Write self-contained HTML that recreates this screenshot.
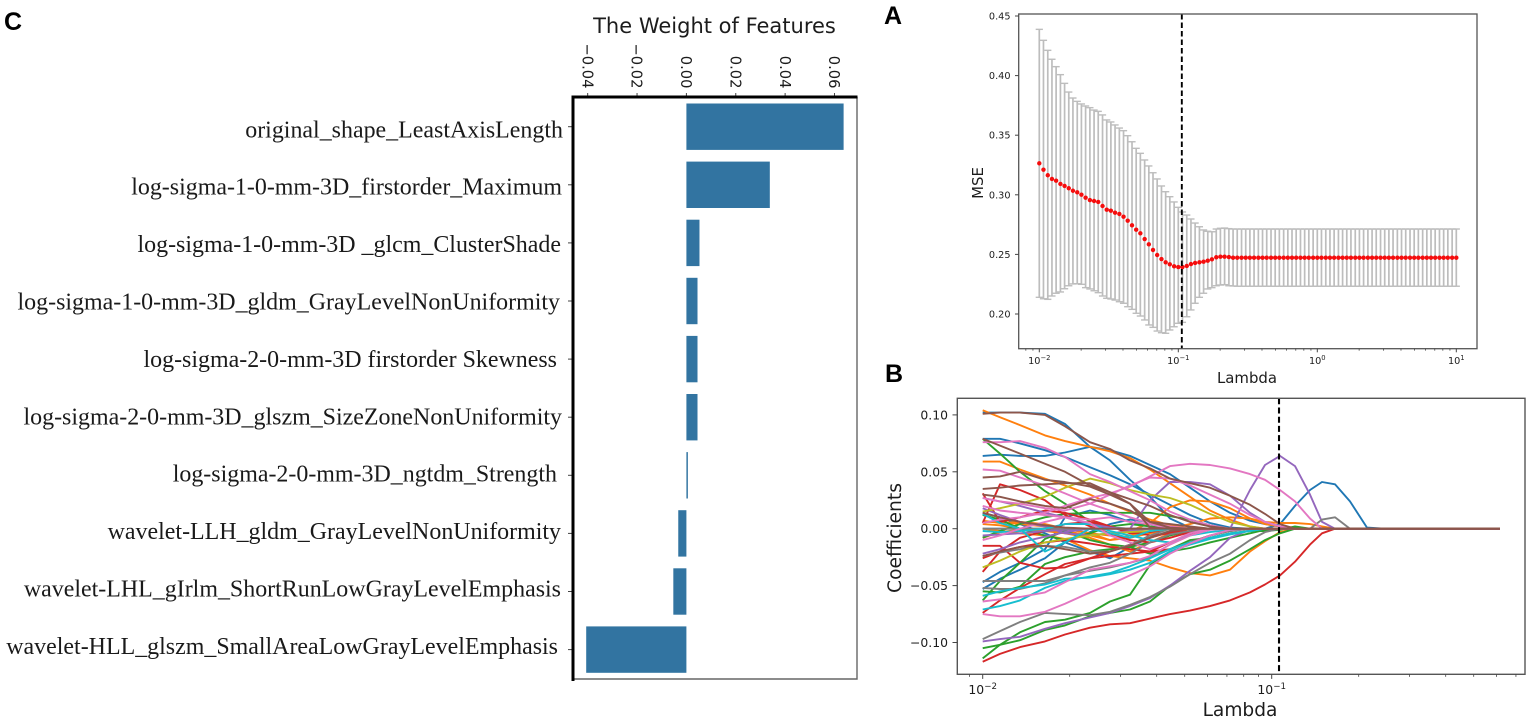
<!DOCTYPE html>
<html lang="en">
<head>
<meta charset="utf-8">
<title>Radiomics feature selection figure</title>
<style>
html,body{margin:0;padding:0;background:#fff;width:1535px;height:726px;overflow:hidden}
svg{display:block;filter:blur(0.35px)}
.dv{font-family:"DejaVu Sans","Liberation Sans",sans-serif;fill:#1c1c1c}
.serif{font-family:"Liberation Serif",serif;fill:#1a1a1a;font-size:23.95px}
.panel{font-family:"Liberation Sans",sans-serif;font-weight:bold;font-size:25px;fill:#000}
</style>
</head>
<body>
<svg id="fig" xmlns="http://www.w3.org/2000/svg" width="1535" height="726" viewBox="0 0 1535 726">
  <rect x="0" y="0" width="1535" height="726" fill="#fff"/>
  <text class="panel" x="4" y="30">C</text>
  <text class="panel" x="884" y="24">A</text>
  <text class="panel" x="885" y="382">B</text>

  <g id="chartC">
    <text class="dv" x="714.5" y="33" font-size="21" text-anchor="middle">The Weight of Features</text>
  </g>
  <g id="chartA">
    <text class="dv" x="1247" y="383" font-size="14.9" text-anchor="middle">Lambda</text>
    <text class="dv" transform="translate(983,183) rotate(-90)" font-size="14.9" text-anchor="middle">MSE</text>
  </g>
  <g id="chartB">
    <text class="dv" x="1240" y="716" font-size="18.6" text-anchor="middle">Lambda</text>
    <text class="dv" transform="translate(901,538) rotate(-90)" font-size="18.7" text-anchor="middle">Coefficients</text>
  </g>
</svg>
<script>
/* ---------- Panel C data ---------- */
const featureNames = [
  "original_shape_LeastAxisLength",
  "log-sigma-1-0-mm-3D_firstorder_Maximum",
  "log-sigma-1-0-mm-3D _glcm_ClusterShade",
  "log-sigma-1-0-mm-3D_gldm_GrayLevelNonUniformity",
  "log-sigma-2-0-mm-3D firstorder Skewness",
  "log-sigma-2-0-mm-3D_glszm_SizeZoneNonUniformity",
  "log-sigma-2-0-mm-3D_ngtdm_Strength",
  "wavelet-LLH_gldm_GrayLevelNonUniformity",
  "wavelet-LHL_gIrlm_ShortRunLowGrayLevelEmphasis",
  "wavelet-HLL_glszm_SmallAreaLowGrayLevelEmphasis"
];
const featureWeights = [0.0637,0.0338,0.0053,0.0045,0.0045,0.0045,0.0006,-0.0033,-0.0053,-0.0406];
const weightTicks = [-0.04,-0.02,0,0.02,0.04,0.06];
const weightTickLabels = ["\u22120.04","\u22120.02","0.00","0.02","0.04","0.06"];

/* ---------- Panel A data ---------- */
const logLambdaGrid = [
-2.000,-1.970,-1.939,-1.909,-1.879,-1.848,-1.818,-1.788,-1.758,-1.727,
-1.697,-1.667,-1.636,-1.606,-1.576,-1.545,-1.515,-1.485,-1.455,-1.424,
-1.394,-1.364,-1.333,-1.303,-1.273,-1.242,-1.212,-1.182,-1.152,-1.121,
-1.091,-1.061,-1.030,-1.000,-0.970,-0.939,-0.909,-0.879,-0.848,-0.818,
-0.788,-0.758,-0.727,-0.697,-0.667,-0.636,-0.606,-0.576,-0.545,-0.515,
-0.485,-0.455,-0.424,-0.394,-0.364,-0.333,-0.303,-0.273,-0.242,-0.212,
-0.182,-0.152,-0.121,-0.091,-0.061,-0.030,0.000,0.030,0.061,0.091,
0.121,0.152,0.182,0.212,0.242,0.273,0.303,0.333,0.364,0.394,
0.424,0.455,0.485,0.515,0.545,0.576,0.606,0.636,0.667,0.697,
0.727,0.758,0.788,0.818,0.848,0.879,0.909,0.939,0.970,1.000];
const mseMean = [
.3264,.3211,.3164,.3133,.3118,.3091,.3074,.3055,.3034,.3021,
.3001,.2976,.2956,.2948,.2940,.2906,.2875,.2867,.2850,.2839,
.2816,.2783,.2744,.2707,.2677,.2629,.2585,.2537,.2495,.2461,
.2434,.2417,.2400,.2394,.2394,.2403,.2419,.2428,.2434,.2439,
.2447,.2459,.2476,.2481,.2481,.2478,.2472,.2472,.2472,.2472,
.2472,.2472,.2472,.2472,.2472,.2472,.2472,.2472,.2472,.2472,
.2472,.2472,.2472,.2472,.2472,.2472,.2472,.2472,.2472,.2472,
.2472,.2472,.2472,.2472,.2472,.2472,.2472,.2472,.2472,.2472,
.2472,.2472,.2472,.2472,.2472,.2472,.2472,.2472,.2472,.2472,
.2472,.2472,.2472,.2472,.2472,.2472,.2472,.2472,.2472,.2472];
const mseUpper = [
.4388,.4296,.4212,.4137,.4075,.4008,.3935,.3862,.3812,.3784,
.3762,.3745,.3731,.3711,.3700,.3670,.3628,.3611,.3586,.3560,
.3538,.3496,.3445,.3390,.3348,.3292,.3242,.3185,.3133,.3074,
.3026,.2984,.2940,.2895,.2856,.2830,.2797,.2763,.2732,.2705,
.2694,.2690,.2713,.2719,.2721,.2716,.2713,.2713,.2713,.2713,
.2713,.2713,.2713,.2713,.2713,.2713,.2713,.2713,.2713,.2713,
.2713,.2713,.2713,.2713,.2713,.2713,.2713,.2713,.2713,.2713,
.2713,.2713,.2713,.2713,.2713,.2713,.2713,.2713,.2713,.2713,
.2713,.2713,.2713,.2713,.2713,.2713,.2713,.2713,.2713,.2713,
.2713,.2713,.2713,.2713,.2713,.2713,.2713,.2713,.2713,.2713];
const mseLower = [
.2140,.2128,.2123,.2151,.2174,.2185,.2212,.2237,.2252,.2254,
.2249,.2221,.2210,.2195,.2179,.2151,.2132,.2126,.2117,.2103,
.2090,.2061,.2039,.2006,.1983,.1950,.1908,.1888,.1857,.1843,
.1838,.1866,.1893,.1922,.1930,.1977,.2034,.2090,.2140,.2174,
.2210,.2221,.2237,.2243,.2246,.2237,.2235,.2233,.2233,.2233,
.2233,.2233,.2233,.2233,.2233,.2233,.2233,.2233,.2233,.2233,
.2233,.2233,.2233,.2233,.2233,.2233,.2233,.2233,.2233,.2233,
.2233,.2233,.2233,.2233,.2233,.2233,.2233,.2233,.2233,.2233,
.2233,.2233,.2233,.2233,.2233,.2233,.2233,.2233,.2233,.2233,
.2233,.2233,.2233,.2233,.2233,.2233,.2233,.2233,.2233,.2233];
const mseTicks = [0.20,0.25,0.30,0.35,0.40,0.45];
const mseTickLabels = ["0.20","0.25","0.30","0.35","0.40","0.45"];
const selectedLambda = 0.106;

/* ---------- Panel B data (values past the end of a row are 0) ---------- */
const pathLambdas = [.01,.01148,.01346,.01643,.01926,.02351,.02758,.03234,.03792,.04448,.05216,.06117,.07173,.08411,.09479,.1068,.1204,.1357,.1493,.1656,.1866,.2137,.2467,.6166];
const coefBlue = [
[.102,.102,.102,.101,.092,.072,.060,.043,.028,.009,.001],
[.064,.065,.064,.064,.067,.072,.069,.064,.056,.048,.036,.024,.014,.007,.004,.002],
[.079,.079,.075,.069,.063,.054,.047,.039,.030,.021,.012,.005,.001],
[-.053,-.044,-.036,-.026,-.012,-.003,.004,.008,.006,.002],
[-.047,-.038,-.030,-.018,.010,.016,.012,.006,.002],
[.014,.010,.004,-.004,-.012,-.020,-.026,-.016,-.008,-.002],
[0,0,0,0,0,0,0,0,0,0,0,0,0,0,0,.004,.020,.034,.041,.039,.024,.001]
];
const coefOrange = [
[.104,.098,.091,.082,.077,.072,.068,.062,.052,.040,.028,.016,.008,.002],
[.059,.059,.052,.044,.038,.030,.022,.015,.008,.003],
[.006,.006,.004,.002,0,-.004,-.006,-.002,.005,.019,.025,.024,.018,.009,.004,.002,.001],
[.004,.003,0,-.002,-.002,-.006,-.010,-.008,-.004,0,.004,.009,.010,.009,.006,.005,.005,.004,.002],
[0,-.002,-.004,-.006,-.009,-.019,-.024,-.026,-.028,-.034,-.039,-.041,-.036,-.020,-.011,-.003],
[-.008,-.003,-.001,-.002,-.004,-.008,-.014,-.020,-.012,-.004],
[.007,.005,.006,.004,0,-.004,-.010,-.006,-.002]
];
const coefGreen = [
[.079,.066,.050,.033,.022,.006,.001],
[-.008,-.002,.004,.010,.013,.014,.014,.014,.014,.011,.008,.003],
[-.105,-.102,-.098,-.089,-.085,-.077,-.074,-.071,-.064,-.050,-.040,-.036,-.028,-.018,-.010,-.004],
[-.114,-.102,-.091,-.082,-.080,-.074,-.064,-.058,-.032,-.020,-.017,-.012,-.008,-.004,-.001],
[-.063,-.046,-.030,-.009,-.002,-.010,-.014,-.016,-.012,-.006,-.002],
[-.055,-.056,-.051,-.031,-.025,-.020,-.018,-.016,-.022,-.018,-.010,-.008,-.004,-.002,-.002,-.001,.002],
[.012,.008,0,-.006,-.010,-.004,.002,.004,.002]
];
const coefRed = [
[-.117,-.110,-.104,-.099,-.093,-.087,-.084,-.083,-.079,-.075,-.072,-.068,-.063,-.056,-.049,-.041,-.029,-.014,-.004],
[-.074,-.063,-.052,-.040,-.031,-.026,-.024,-.022,-.020,-.018,-.012,-.006,-.002],
[-.015,-.015,-.030,-.035,-.034,-.026,-.020,-.014,-.008,-.003],
[.005,.039,.034,.025,.012,.002,-.004,-.010,-.012,-.008,-.003],
[.031,.006,.010,.016,.014,.008,.002,-.004,-.003],
[-.026,-.020,-.016,-.012,-.010,-.013,-.016,-.018,-.020,-.012,-.005],
[-.038,-.020,-.008,-.002,.004,.006,.002,-.002,-.006,-.004,-.002]
];
const coefPurple = [
[-.006,-.005,-.004,-.002,-.001,0,0,0,0,0,0,0,0,.034,.056,.064,.055,.030,.006],
[-.022,-.018,-.012,-.007,-.003,0,0,0,.025,.041,.041,.039,.029,.014,.006,.002],
[-.099,-.097,-.095,-.088,-.083,-.078,-.074,-.068,-.061,-.050,-.037,-.025,-.008,-.001],
[.027,.024,.020,.014,.010,.004,.001],
[.018,.012,.006,.002,-.004,-.006,-.004,-.002]
];
const coefGray = [
[-.097,-.090,-.082,-.074,-.075,-.076,-.073,-.067,-.060,-.051,-.040,-.030,-.022,-.010,-.003],
[-.046,-.046,-.046,-.046,-.041,-.037,-.034,-.030,-.025,-.018,-.012,-.006,-.002],
[-.052,-.053,-.053,-.048,-.041,-.034,-.030,-.022,-.012,-.005,-.002],
[-.024,-.021,-.018,-.015,-.016,-.020,-.020,-.014,-.006],
[0,0,0,0,0,0,0,0,0,0,0,0,0,0,0,0,0,0,.008,.010]
];
const coefOlive = [
[.015,.018,.022,.028,.036,.044,.040,.034,.030,.027,.021,.013,.006,.002],
[-.034,-.028,-.020,-.012,-.009,-.006,-.004,-.003,-.002]
];
const coefCyan = [
[-.071,-.068,-.063,-.052,-.046,-.042,-.039,-.033,-.026,-.018,-.012,-.008,-.004,-.002],
[-.059,-.055,-.052,-.049,-.044,-.043,-.040,-.036,-.030,-.020,-.014,-.009,-.005,-.002],
[.013,.005,0,-.020,-.012,0,-.004,-.008,-.002],
[-.002,-.003,-.002,0,.004,.004,-.002,-.006,-.010,-.012,-.006,-.003,-.001]
];
const coefPink = [
[.076,.076,.077,.071,.063,.048,.041,.033,.025,.015,.008,.003],
[.005,.008,.010,.014,.020,.027,.031,.037,.046,.055,.057,.056,.053,.048,.043,.034,.024,.009],
[.052,.051,.045,.038,.031,.022,.016,.010,.005,.002],
[-.075,-.077,-.077,-.073,-.066,-.056,-.049,-.041,-.033,-.022,-.013,-.006,-.001],
[-.064,-.062,-.060,-.056,-.047,-.036,-.033,-.030,-.024,-.014,-.006,-.001],
[.027,.024,.022,.018,.016,.022,.030,.038,.045,.044,.038,.030,.022,.012,.006,.002],
[.020,.016,.014,.012,.010,.008,.010,.006,.004],
[-.010,-.006,0,.006,.010,.005,-.006,-.012,-.018,-.012,-.004]
];
const coefBrown = [
[.101,.102,.102,.100,.090,.076,.070,.060,.053,.044,.040,.036,.029,.021,.013,.004],
[.079,.073,.066,.057,.050,.038,.032,.026,.020,.012,.006,.002],
[.045,.046,.050,.043,.041,.037,.030,.022,.006,.004,.002],
[.035,.036,.038,.039,.040,.040,.032,.022,.001],
[.030,.028,.024,.020,.018,.026,.022,.016,.006,.001],
[-.024,-.020,-.016,-.015,-.018,-.022,-.020,-.015,-.008,-.002],
[.014,.010,.006,.003,.001]
];
const coefTicks = [-0.10,-0.05,0,0.05,0.10];
const coefTickLabels = ["\u22120.10","\u22120.05","0.00","0.05","0.10"];
const seriesGroups = [
  ["blue","#1f77b4",coefBlue],["orange","#ff7f0e",coefOrange],["green","#2ca02c",coefGreen],
  ["red","#d62728",coefRed],["purple","#9467bd",coefPurple],["gray","#7f7f7f",coefGray],
  ["olive","#bcbd22",coefOlive],["cyan","#17becf",coefCyan],["pink","#e377c2",coefPink],
  ["brown","#8c564b",coefBrown]
];

/* ---------- helpers ---------- */
const NS = "http://www.w3.org/2000/svg";
function mk(tag, attrs, parent) {
  const el = document.createElementNS(NS, tag);
  for (const k in attrs) el.setAttribute(k, attrs[k]);
  parent.appendChild(el);
  return el;
}
const chartC = document.getElementById("chartC");
const chartA = document.getElementById("chartA");
const chartB = document.getElementById("chartB");
const SPINE = "#555";

/* ---------- Panel C ---------- */
const xW = v => 686.4 + v * 2468;
const rowY = i => 126.7 + 58.1 * i;
const labelBase = i => 137.3 + 57.4 * i;
const labelNudge = [0,-1,-2,-3,-6,-1,-6,-2,-2,-5];

featureWeights.forEach((w, i) => {
  const x0 = Math.min(xW(0), xW(w));
  const bar = mk("rect", {x:x0, y:rowY(i)-23.2, width:Math.abs(xW(w)-xW(0)), height:46.4, fill:"#3274a1"}, chartC);
  
  
  const tick = mk("line", {x1:568, x2:573, y1:rowY(i), y2:rowY(i), stroke:"#444", "stroke-width":1}, chartC);
  
  
  const label = mk("text", {x:563+labelNudge[i], y:labelBase(i), "text-anchor":"end", class:"serif"}, chartC);
  
  
  label.textContent = featureNames[i];
});
weightTicks.forEach((t, i) => {
  const tick = mk("line", {x1:xW(t), x2:xW(t), y1:93, y2:97, stroke:"#444", "stroke-width":1}, chartC);
  
  
  const label = mk("text", {transform:"translate("+(xW(t)-5.3)+",88.5) rotate(90)", "text-anchor":"end", "font-size":14.7, class:"dv"}, chartC);
  
  
  label.textContent = weightTickLabels[i];
});
const cRight = mk("path", {d:"M857 97V679H573", fill:"none", stroke:"#666", "stroke-width":1.4}, chartC);


const cThick = mk("path", {d:"M573 681V97H857.5", fill:"none", stroke:"#000", "stroke-width":3}, chartC);



/* ---------- shared log axis ---------- */
function logTicks(group, xf, bottom, xMin, xMax, decades, fontSize, baseline, majorLen) {
  for (let d = decades[0] - 1; d <= decades[decades.length-1] + 1; d++) {
    for (let m = 1; m < 10; m++) {
      const x = xf(m * Math.pow(10, d));
      if (x < xMin || x > xMax) continue;
      const tk = mk("line", {x1:x, x2:x, y1:bottom, y2:bottom+(m===1?majorLen:majorLen*0.55), stroke:"#444", "stroke-width":m===1?1:0.8}, group);
      
      
      if (m === 1 && decades.includes(d)) {
        const lb = mk("text", {x:x, y:baseline, "text-anchor":"middle", "font-size":fontSize, class:"dv"}, group);
        
        
        const a = mk("tspan", {}, lb);
        a.textContent = "10";
        const b = mk("tspan", {dy:-fontSize*0.42, "font-size":fontSize*0.7}, lb);
        b.textContent = d < 0 ? "\u2212" + Math.abs(d) : String(d);
      }
    }
  }
}

/* ---------- Panel A ---------- */
const xA = l => 1039.3 + 139 * (Math.log10(l) + 2);
const yA = v => 314 - (v - 0.2) * 1192;
logLambdaGrid.forEach((g, i) => {
  const l = Math.pow(10, g), x = xA(l);
  const stem = mk("line", {x1:x, x2:x, y1:yA(mseUpper[i]), y2:yA(mseLower[i]), stroke:"#bdbdbd", "stroke-width":1.7}, chartA);
  
  
  const capU = mk("line", {x1:x-3.6, x2:x+3.6, y1:yA(mseUpper[i]), y2:yA(mseUpper[i]), stroke:"#bdbdbd", "stroke-width":1.4}, chartA);
  
  
  const capL = mk("line", {x1:x-3.6, x2:x+3.6, y1:yA(mseLower[i]), y2:yA(mseLower[i]), stroke:"#bdbdbd", "stroke-width":1.4}, chartA);
  
  
});
logLambdaGrid.forEach((g, i) => {
  const dot = mk("circle", {cx:xA(Math.pow(10, g)), cy:yA(mseMean[i]), r:2.2, fill:"#f50d0d"}, chartA);
  
  
});
const dashA = mk("line", {x1:xA(selectedLambda), x2:xA(selectedLambda), y1:14, y2:348.7, stroke:"#000", "stroke-width":1.9, "stroke-dasharray":"5.5 3"}, chartA);


const frameA = mk("rect", {x:1018.7, y:14, width:458.3, height:334.7, fill:"none", stroke:SPINE, "stroke-width":1.3}, chartA);


mseTicks.forEach((t, i) => {
  const tk = mk("line", {x1:1015, x2:1018.7, y1:yA(t), y2:yA(t), stroke:"#444", "stroke-width":1}, chartA);
  
  
  const lb = mk("text", {x:1010.5, y:yA(t)+3.5, "text-anchor":"end", "font-size":9.7, class:"dv"}, chartA);
  
  
  lb.textContent = mseTickLabels[i];
});
logTicks(chartA, xA, 348.7, 1019, 1477, [-2,-1,0,1], 9.7, 364, 3.6);

/* ---------- Panel B ---------- */
const xB = l => 982.7 + 289 * (Math.log10(l) + 2);
const yB = v => 528.7 - v * 1138;
seriesGroups.forEach(group => {
  group[2].forEach(values => {
    const pts = pathLambdas.map((l, i) => xB(l).toFixed(1) + "," + yB(i < values.length ? values[i] : 0).toFixed(1)).join(" ");
    const line = mk("polyline", {points:pts, fill:"none", stroke:group[1], "stroke-width":1.9, "stroke-linejoin":"round"}, chartB);
    
    
  });
});
const dashB = mk("line", {x1:xB(selectedLambda), x2:xB(selectedLambda), y1:398.3, y2:674.3, stroke:"#000", "stroke-width":2.1, "stroke-dasharray":"6 3.2"}, chartB);


const frameB = mk("rect", {x:957.3, y:398.3, width:567.7, height:276, fill:"none", stroke:SPINE, "stroke-width":1.4}, chartB);


coefTicks.forEach((t, i) => {
  const tk = mk("line", {x1:952.5, x2:957.3, y1:yB(t), y2:yB(t), stroke:"#444", "stroke-width":1}, chartB);
  
  
  const lb = mk("text", {x:948, y:yB(t)+4.5, "text-anchor":"end", "font-size":12.4, class:"dv"}, chartB);
  
  
  lb.textContent = coefTickLabels[i];
});
logTicks(chartB, xB, 674.3, 958, 1525, [-2,-1], 12.4, 694, 4.6);
</script>
</body>
</html>
